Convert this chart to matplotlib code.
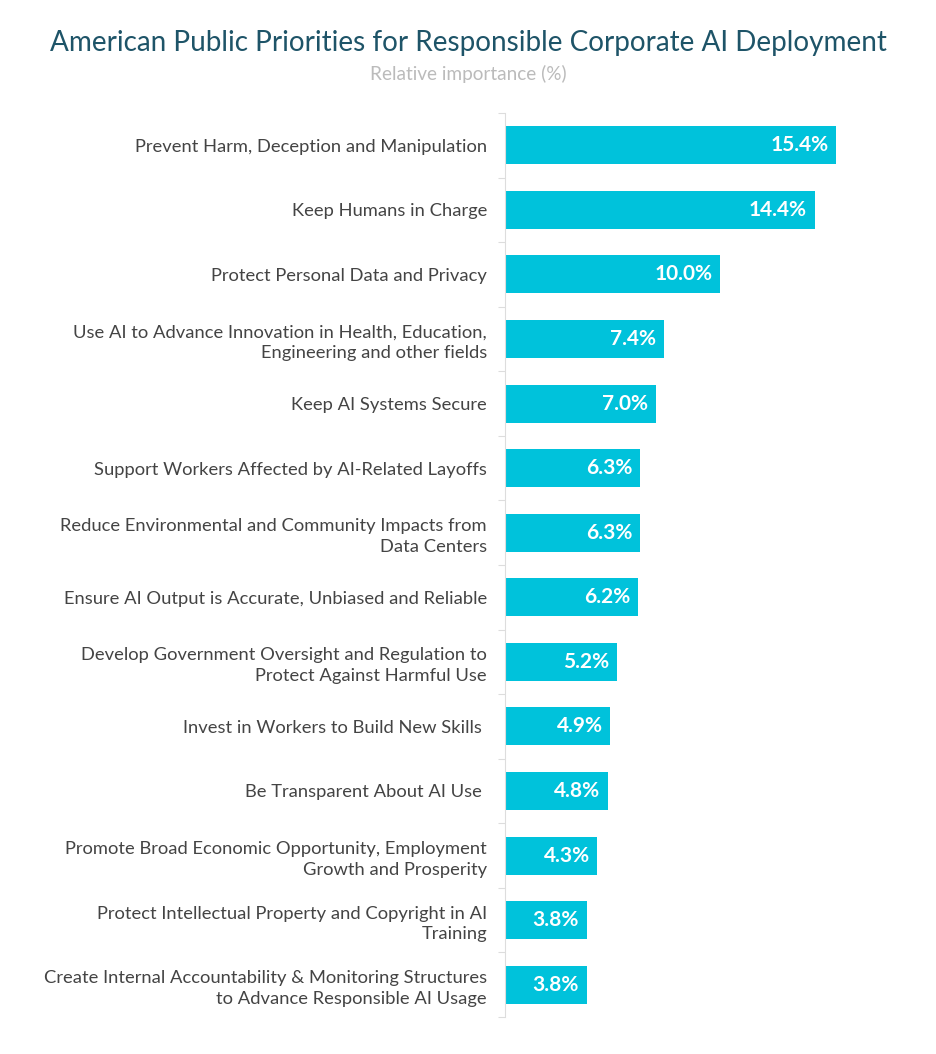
import matplotlib
matplotlib.use("Agg")
from matplotlib import pyplot as plt
import numpy as np

plt.rcParams['font.family'] = ['Lato', 'DejaVu Sans']

categories = [
    "Prevent Harm, Deception and Manipulation",
    "Keep Humans in Charge",
    "Protect Personal Data and Privacy",
    "Use AI to Advance Innovation in Health, Education,\nEngineering and other fields",
    "Keep AI Systems Secure",
    "Support Workers Affected by AI-Related Layoffs",
    "Reduce Environmental and Community Impacts from\nData Centers",
    "Ensure AI Output is Accurate, Unbiased and Reliable",
    "Develop Government Oversight and Regulation to\nProtect Against Harmful Use",
    "Invest in Workers to Build New Skills ",
    "Be Transparent About AI Use ",
    "Promote Broad Economic Opportunity, Employment\nGrowth and Prosperity",
    "Protect Intellectual Property and Copyright in AI\nTraining",
    "Create Internal Accountability & Monitoring Structures\nto Advance Responsible AI Usage",
]
values = [15.4, 14.4, 10.0, 7.4, 7.0, 6.3, 6.3, 6.2, 5.2, 4.9, 4.8, 4.3, 3.8, 3.8]

bar_color = "#00C2DB"

fig = plt.figure(figsize=(9.36, 10.54), dpi=100)
ax = fig.add_axes([505 / 936, 1 - 1017 / 1054, 415 / 936, 904 / 1054])

y = np.arange(len(categories))
ax.barh(y, values, height=0.59, color=bar_color)
ax.set_ylim(len(categories) - 0.5, -0.5)
ax.set_xlim(0, 415 / 21.5)

for yi, v in zip(y, values):
    ax.annotate("%.1f%%" % v, (v, yi), xytext=(-5.5, 0), textcoords="offset points",
                ha="right", va="center", color="white", fontsize=15, fontweight="bold")

# labels on the left, ticks at category boundaries
ax.set_yticks(y)
ax.set_yticklabels(categories, fontsize=13.2, color="#444444", linespacing=1.35)
ax.tick_params(axis="y", length=0, pad=13)
ax.set_yticks(np.arange(len(categories) + 1) - 0.5, minor=True)
ax.tick_params(axis="y", which="minor", length=5, color="#dddddd", width=0.8)
ax.set_xticks([])

for side in ["top", "right", "bottom"]:
    ax.spines[side].set_visible(False)
ax.spines["left"].set_color("#dddddd")
ax.spines["left"].set_linewidth(0.8)

fig.text(0.5, 1 - 43 / 1054, "American Public Priorities for Responsible Corporate AI Deployment",
         ha="center", va="center", fontsize=20.1, color="#1E5468")
fig.text(0.5, 1 - 74 / 1054, "Relative importance (%)",
         ha="center", va="center", fontsize=13.7, color="#BBBBBB")

fig.savefig("out.png", dpi=100, facecolor="white")
